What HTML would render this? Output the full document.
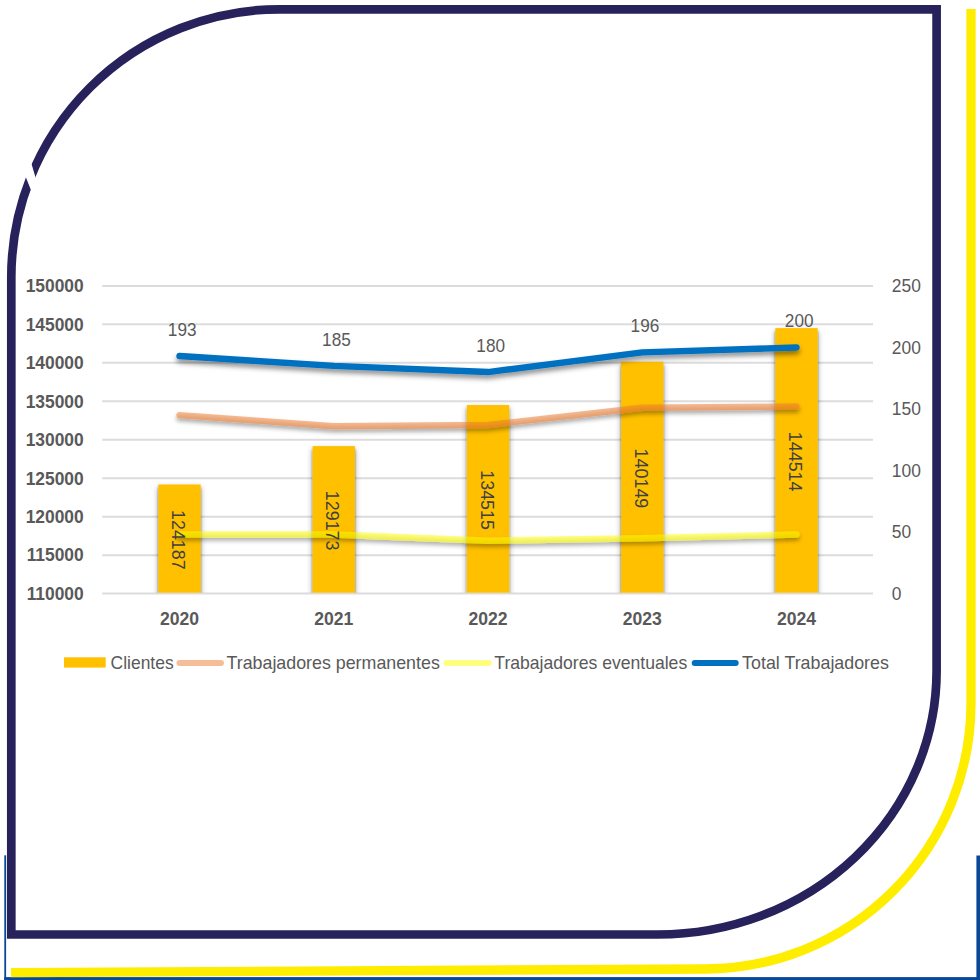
<!DOCTYPE html>
<html><head><meta charset="utf-8"><title>chart</title>
<style>
html,body{margin:0;padding:0;background:#fff;}
body{width:980px;height:980px;overflow:hidden;position:relative;}
svg{position:absolute;left:0;top:0;display:block;}
text{font-family:"Liberation Sans", sans-serif;}
</style></head><body>
<svg width="980" height="980" viewBox="0 0 980 980">
<defs>
<filter id="lsh" filterUnits="userSpaceOnUse" x="0" y="0" width="980" height="980">
<feDropShadow dx="0" dy="3.5" stdDeviation="2.5" flood-color="#000" flood-opacity="0.45"/>
</filter>
<filter id="lsh2" filterUnits="userSpaceOnUse" x="0" y="0" width="980" height="980">
<feDropShadow dx="0" dy="3" stdDeviation="2.3" flood-color="#000" flood-opacity="0.62"/>
</filter>
<clipPath id="plotclip"><rect x="0" y="0" width="980" height="592.8"/></clipPath>
<filter id="bsh" filterUnits="userSpaceOnUse" x="0" y="0" width="980" height="980">
<feGaussianBlur in="SourceAlpha" stdDeviation="3" result="b1"/><feOffset in="b1" dy="3" result="o1"/><feComponentTransfer in="o1" result="s1"><feFuncA type="linear" slope="0.35"/></feComponentTransfer><feGaussianBlur in="SourceAlpha" stdDeviation="1.3" result="b2"/><feOffset in="b2" dy="2.5" result="o2"/><feComponentTransfer in="o2" result="s2"><feFuncA type="linear" slope="0.45"/></feComponentTransfer><feMerge><feMergeNode in="s1"/><feMergeNode in="s2"/><feMergeNode in="SourceGraphic"/></feMerge>
</filter>
</defs>
<rect x="0" y="0" width="980" height="980" fill="#fff"/>

<rect x="4.3" y="855.3" width="1.8" height="125" fill="#084896"/>
<rect x="4.3" y="977.1" width="976" height="3" fill="#084896"/>
<rect x="976.4" y="855.5" width="4" height="125" fill="#084896"/>
<path d="M 971 9 L 971 703 A 266.5 266 0 0 1 704.5 969 L 11 972.6" fill="none" stroke="#ffed00" stroke-width="9.3"/>
<path d="M 279.3 9.3 L 936.6 9.3 L 936.6 671.0 A 278.7 263.5 0 0 1 657.9000000000001 934.5 L 11.3 934.5 L 11.3 277.3 A 268 268 0 0 1 279.3 9.3 Z" fill="none" stroke="#28225c" stroke-width="8.7" stroke-linejoin="miter"/>
<polygon points="30.5,160.5 36,179 31.5,191.5 24,172.5" fill="#fff"/>
<line x1="102.2" y1="285.90" x2="873.0" y2="285.90" stroke="#dcdcdc" stroke-width="2"/>
<line x1="102.2" y1="324.36" x2="873.0" y2="324.36" stroke="#dcdcdc" stroke-width="2"/>
<line x1="102.2" y1="362.82" x2="873.0" y2="362.82" stroke="#dcdcdc" stroke-width="2"/>
<line x1="102.2" y1="401.29" x2="873.0" y2="401.29" stroke="#dcdcdc" stroke-width="2"/>
<line x1="102.2" y1="439.75" x2="873.0" y2="439.75" stroke="#dcdcdc" stroke-width="2"/>
<line x1="102.2" y1="478.21" x2="873.0" y2="478.21" stroke="#dcdcdc" stroke-width="2"/>
<line x1="102.2" y1="516.67" x2="873.0" y2="516.67" stroke="#dcdcdc" stroke-width="2"/>
<line x1="102.2" y1="555.14" x2="873.0" y2="555.14" stroke="#dcdcdc" stroke-width="2"/>
<line x1="102.2" y1="593.60" x2="873.0" y2="593.60" stroke="#dcdcdc" stroke-width="2"/>
<g clip-path="url(#plotclip)">
<rect x="158.30" y="484.47" width="42.4" height="108.53" fill="#ffc000" filter="url(#bsh)"/>
<rect x="312.55" y="446.11" width="42.4" height="146.89" fill="#ffc000" filter="url(#bsh)"/>
<rect x="466.80" y="405.02" width="42.4" height="187.98" fill="#ffc000" filter="url(#bsh)"/>
<rect x="621.05" y="361.68" width="42.4" height="231.32" fill="#ffc000" filter="url(#bsh)"/>
<rect x="775.30" y="328.10" width="42.4" height="264.90" fill="#ffc000" filter="url(#bsh)"/>
</g>
<polyline points="179.50,534.52 333.75,534.52 488.00,540.68 642.25,538.21 796.50,534.52" fill="none" stroke="#ffff00" stroke-opacity="0.5" stroke-width="6.4" stroke-linecap="round" stroke-linejoin="round" filter="url(#lsh2)"/>
<polyline points="179.50,415.13 333.75,426.21 488.00,424.98 642.25,407.75 796.50,406.52" fill="none" stroke="#ed7d31" stroke-opacity="0.52" stroke-width="6.4" stroke-linecap="round" stroke-linejoin="round" filter="url(#lsh2)"/>
<polyline points="179.50,356.06 333.75,365.90 488.00,372.06 642.25,352.36 796.50,347.44" fill="none" stroke="#0070c0" stroke-width="6.4" stroke-linecap="round" stroke-linejoin="round" filter="url(#lsh)"/>
<text transform="translate(83.70,292.20) scale(1.0,1.05)" font-size="17.4" font-weight="bold" text-anchor="end" fill="#595959">150000</text>
<text transform="translate(83.70,330.66) scale(1.0,1.05)" font-size="17.4" font-weight="bold" text-anchor="end" fill="#595959">145000</text>
<text transform="translate(83.70,369.12) scale(1.0,1.05)" font-size="17.4" font-weight="bold" text-anchor="end" fill="#595959">140000</text>
<text transform="translate(83.70,407.59) scale(1.0,1.05)" font-size="17.4" font-weight="bold" text-anchor="end" fill="#595959">135000</text>
<text transform="translate(83.70,446.05) scale(1.0,1.05)" font-size="17.4" font-weight="bold" text-anchor="end" fill="#595959">130000</text>
<text transform="translate(83.70,484.51) scale(1.0,1.05)" font-size="17.4" font-weight="bold" text-anchor="end" fill="#595959">125000</text>
<text transform="translate(83.70,522.97) scale(1.0,1.05)" font-size="17.4" font-weight="bold" text-anchor="end" fill="#595959">120000</text>
<text transform="translate(83.70,561.44) scale(1.0,1.05)" font-size="17.4" font-weight="bold" text-anchor="end" fill="#595959">115000</text>
<text transform="translate(83.70,599.90) scale(1.0,1.05)" font-size="17.4" font-weight="bold" text-anchor="end" fill="#595959">110000</text>
<text transform="translate(891.80,292.00) scale(1.0,1.05)" font-size="17.4" fill="#595959">250</text>
<text transform="translate(891.80,353.54) scale(1.0,1.05)" font-size="17.4" fill="#595959">200</text>
<text transform="translate(891.80,415.08) scale(1.0,1.05)" font-size="17.4" fill="#595959">150</text>
<text transform="translate(891.80,476.62) scale(1.0,1.05)" font-size="17.4" fill="#595959">100</text>
<text transform="translate(891.80,538.16) scale(1.0,1.05)" font-size="17.4" fill="#595959">50</text>
<text transform="translate(891.80,599.70) scale(1.0,1.05)" font-size="17.4" fill="#595959">0</text>
<text transform="translate(179.50,625.10) scale(1.0,1.07)" font-size="17.6" font-weight="bold" text-anchor="middle" fill="#595959">2020</text>
<text transform="translate(333.75,625.10) scale(1.0,1.07)" font-size="17.6" font-weight="bold" text-anchor="middle" fill="#595959">2021</text>
<text transform="translate(488.00,625.10) scale(1.0,1.07)" font-size="17.6" font-weight="bold" text-anchor="middle" fill="#595959">2022</text>
<text transform="translate(642.25,625.10) scale(1.0,1.07)" font-size="17.6" font-weight="bold" text-anchor="middle" fill="#595959">2023</text>
<text transform="translate(796.50,625.10) scale(1.0,1.07)" font-size="17.6" font-weight="bold" text-anchor="middle" fill="#595959">2024</text>
<text transform="translate(182.20,336.06) scale(1.0,1.07)" font-size="17.2" text-anchor="middle" fill="#595959">193</text>
<text transform="translate(336.45,345.90) scale(1.0,1.07)" font-size="17.2" text-anchor="middle" fill="#595959">185</text>
<text transform="translate(490.70,352.06) scale(1.0,1.07)" font-size="17.2" text-anchor="middle" fill="#595959">180</text>
<text transform="translate(644.95,332.36) scale(1.0,1.07)" font-size="17.2" text-anchor="middle" fill="#595959">196</text>
<text transform="translate(799.20,327.44) scale(1.0,1.07)" font-size="17.2" text-anchor="middle" fill="#595959">200</text>
<text transform="translate(179.50,539.03) rotate(90)" x="0.8" y="7.4" text-anchor="middle" font-size="17.9" fill="#404040">124187</text>
<text transform="translate(333.75,519.86) rotate(90)" x="0.8" y="7.4" text-anchor="middle" font-size="17.9" fill="#404040">129173</text>
<text transform="translate(488.00,499.31) rotate(90)" x="0.8" y="7.4" text-anchor="middle" font-size="17.9" fill="#404040">134515</text>
<text transform="translate(642.25,477.64) rotate(90)" x="0.8" y="7.4" text-anchor="middle" font-size="17.9" fill="#404040">140149</text>
<text transform="translate(796.50,460.85) rotate(90)" x="0.8" y="7.4" text-anchor="middle" font-size="17.9" fill="#404040">144514</text>
<rect x="64" y="657.3" width="41.7" height="10.3" fill="#ffc000"/>
<text transform="translate(110.60,668.80) scale(1.0,1.08)" font-size="17" fill="#595959" textLength="63" lengthAdjust="spacingAndGlyphs">Clientes</text>
<line x1="179.5" y1="662.9" x2="221" y2="662.9" stroke="#ed7d31" stroke-opacity="0.5" stroke-width="6" stroke-linecap="round"/>
<text transform="translate(226.50,668.80) scale(1.0,1.08)" font-size="17" fill="#595959" textLength="213.3" lengthAdjust="spacingAndGlyphs">Trabajadores permanentes</text>
<line x1="446.3" y1="662.9" x2="488.8" y2="662.9" stroke="#ffff00" stroke-opacity="0.5" stroke-width="6" stroke-linecap="round"/>
<text transform="translate(494.30,668.80) scale(1.0,1.08)" font-size="17" fill="#595959" textLength="192.9" lengthAdjust="spacingAndGlyphs">Trabajadores eventuales</text>
<line x1="694.7" y1="662.9" x2="735.7" y2="662.9" stroke="#0070c0" stroke-width="6" stroke-linecap="round"/>
<text transform="translate(742.10,668.80) scale(1.0,1.08)" font-size="17" fill="#595959" textLength="146.8" lengthAdjust="spacingAndGlyphs">Total Trabajadores</text>
</svg></body></html>
